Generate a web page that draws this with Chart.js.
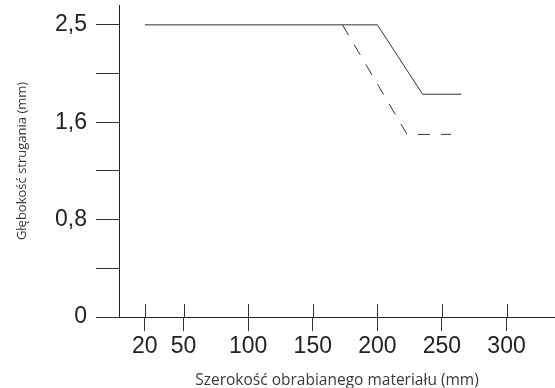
<!DOCTYPE html>
<html lang="pl">
<head>
<meta charset="UTF-8">
<title>Głębokość strugania</title>
<script src="https://cdn.jsdelivr.net/npm/chart.js"></script>
<style>
  html, body { margin: 0; padding: 0; background: #fff; }
  #wrap { width: 555px; height: 388px; }
</style>
</head>
<body>
<div id="wrap"><canvas id="chart"></canvas></div>
<script>
  // szerokość materiału (mm) i głębokość (pozycja na osi, 2.4 = "2,5")
  const solidX = [20, 200, 235, 265];
  const solidY = [2.4, 2.4, 1.83, 1.83];
  const dashX = [173, 223, 257];
  const dashY = [2.4, 1.5, 1.5];

  const xTicks = [20, 50, 100, 150, 200, 250, 300];
  const yTicks = [0, 0.4, 0.8, 1.2, 1.6, 2.0, 2.4];
  const yTickLabels = ['0', '', '0,8', '', '1,6', '', '2,5'];

  const numFont = { family: '"Liberation Sans", Arial, sans-serif', size: 23 };
  const titleFamily = '"Open Sans", "Noto Sans", sans-serif';

  const toPoints = (xs, ys) => xs.map((x, i) => ({ x: x, y: ys[i] }));

  // male kreski nad osia X (w gore od linii osi)
  const upperTicks = {
    id: 'upperTicks',
    afterDraw(chart) {
      const ctx = chart.ctx, sx = chart.scales.x, bottom = chart.chartArea.bottom;
      ctx.save();
      ctx.strokeStyle = '#333';
      ctx.lineWidth = 1;
      xTicks.forEach(v => {
        const px = Math.round(sx.getPixelForValue(v)) + 0.5;
        ctx.beginPath();
        ctx.moveTo(px, bottom - 13);
        ctx.lineTo(px, bottom);
        ctx.stroke();
      });
      ctx.restore();
    }
  };

  new Chart(document.getElementById('chart'), {
    type: 'line',
    data: {
      datasets: [{
        data: toPoints(solidX, solidY),
        borderColor: '#333',
        borderWidth: 1,
        pointRadius: 0,
        tension: 0,
        fill: false
      }, {
        data: toPoints(dashX, dashY),
        borderColor: '#333',
        borderWidth: 1,
        borderDash: [12, 11],
        pointRadius: 0,
        tension: 0,
        fill: false
      }]
    },
    options: {
      responsive: true,
      maintainAspectRatio: false,
      animation: false,
      layout: { padding: { top: 5, left: 0, right: 0, bottom: 0 } },
      plugins: { legend: { display: false }, tooltip: { enabled: false } },
      scales: {
        x: {
          type: 'linear',
          min: 0,
          max: 337.5,
          afterBuildTicks: s => { s.ticks = xTicks.map(v => ({ value: v })); },
          afterFit: s => { s.height = 71; s.paddingLeft = 0; s.paddingRight = 0; },
          border: { color: '#222', width: 1 },
          grid: { drawOnChartArea: false, tickLength: 14, color: '#333', lineWidth: 1 },
          ticks: { font: numFont, color: '#222', padding: 2, maxRotation: 0, autoSkip: false },
          title: {
            display: true,
            text: 'Szerokość obrabianego materiału (mm)',
            font: { family: titleFamily, size: 15.5 },
            color: '#3a3a3a',
            padding: { top: 0, bottom: -2 }
          }
        },
        y: {
          min: 0,
          max: 2.563,
          afterBuildTicks: s => { s.ticks = yTicks.map(v => ({ value: v })); },
          afterFit: s => { s.width = 119; s.paddingTop = 0; s.paddingBottom = 0; },
          border: { color: '#222', width: 1 },
          grid: { drawOnChartArea: false, tickLength: 23, color: '#333', lineWidth: 1 },
          ticks: {
            font: numFont,
            color: '#222',
            padding: 9,
            callback: v => yTickLabels[yTicks.indexOf(v)]
          },
          title: {
            display: true,
            text: 'Głębokość strugania (mm)',
            font: { family: titleFamily, size: 13 },
            color: '#3a3a3a',
            padding: { top: 14, bottom: 0 }
          }
        }
      }
    },
    plugins: [upperTicks]
  });
</script>
</body>
</html>
